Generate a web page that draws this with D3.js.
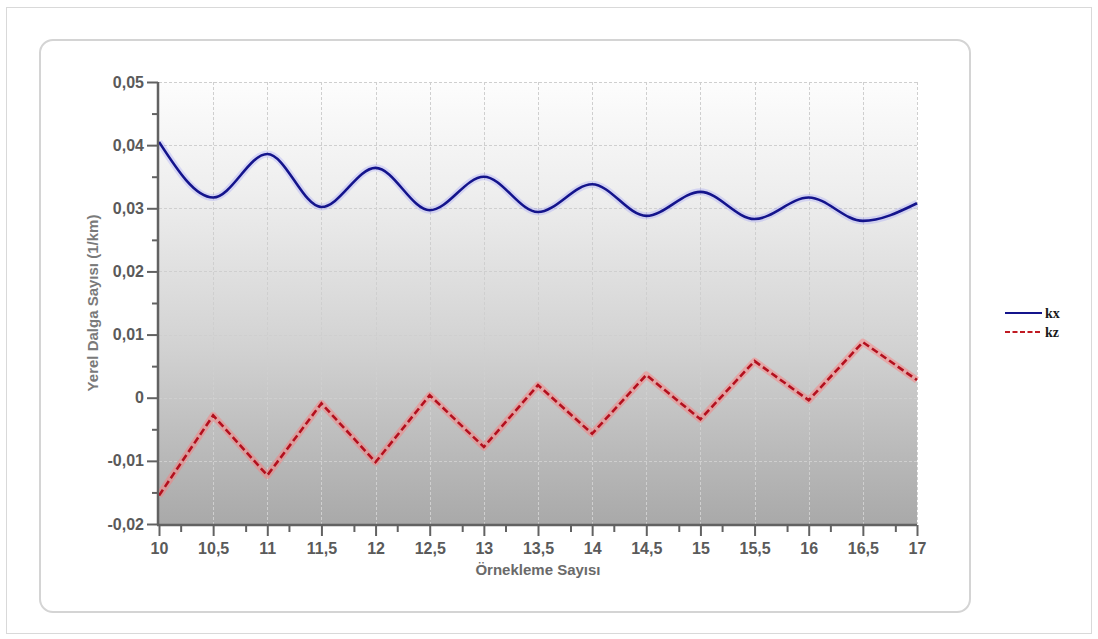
<!DOCTYPE html>
<html>
<head>
<meta charset="utf-8">
<script src="https://cdn.jsdelivr.net/npm/d3@7"></script>
<style>
  html, body { margin: 0; padding: 0; background: #fff; }
  svg { display: block; }
</style>
</head>
<body>
<svg id="chart" width="1098" height="639"></svg>
<script>
// Sample positions (Örnekleme Sayısı)
const samples = [10, 10.5, 11, 11.5, 12, 12.5, 13, 13.5, 14, 14.5, 15, 15.5, 16, 16.5, 17];
// Local wave number kx (1/km)
const kx = [0.0405, 0.0317, 0.0386, 0.0302, 0.0364, 0.0297, 0.0350, 0.0294, 0.0338, 0.0288, 0.0326, 0.0283, 0.0317, 0.0280, 0.0308];
// Local wave number kz (1/km)
const kz = [-0.0155, -0.0028, -0.0123, -0.0009, -0.0102, 0.0004, -0.0078, 0.0020, -0.0057, 0.0036, -0.0034, 0.0058, -0.0004, 0.0088, 0.0028];

const xTicks = [10, 10.5, 11, 11.5, 12, 12.5, 13, 13.5, 14, 14.5, 15, 15.5, 16, 16.5, 17];
const xMinorTicks = [10.2, 10.8, 11.2, 11.8, 12.2, 12.8, 13.2, 13.8, 14.2, 14.8, 15.2, 15.8, 16.2, 16.8];
const yTicks = [-0.02, -0.01, 0, 0.01, 0.02, 0.03, 0.04, 0.05];
const yMinorTicks = [-0.015, -0.005, 0.005, 0.015, 0.025, 0.035, 0.045];

const seriesNames = ["kx", "kz"];
const xTitle = "Örnekleme Sayısı";
const yTitle = "Yerel Dalga Sayısı (1/km)";

const svg = d3.select("#chart");
const plot = { left: 159, right: 917, top: 82, bottom: 524 };

const x = d3.scaleLinear().domain([10, 17]).range([plot.left, plot.right]);
const y = d3.scaleLinear().domain([-0.02, 0.05]).range([plot.bottom, plot.top]);

const comma = v => String(+v.toFixed(3)).replace(".", ",");

// page frame and rounded panel
svg.append("rect").attr("x", 6.5).attr("y", 7.5).attr("width", 1085).attr("height", 626)
  .attr("fill", "#fff").attr("stroke", "#d9d9d9").attr("stroke-width", 1);
svg.append("rect").attr("x", 40).attr("y", 40).attr("width", 930).attr("height", 572)
  .attr("rx", 13).attr("ry", 13)
  .attr("fill", "#fff").attr("stroke", "#d4d4d4").attr("stroke-width", 2);

// plot background gradient
const defs = svg.append("defs");
const grad = defs.append("linearGradient").attr("id", "bg").attr("x1", 0).attr("y1", 0).attr("x2", 0).attr("y2", 1);
[[0, "#fdfdfd"], [0.25, "#eeeeee"], [0.6, "#d2d2d2"], [1, "#a9a9a9"]].forEach(([o, c]) =>
  grad.append("stop").attr("offset", o).attr("stop-color", c));

svg.append("rect").attr("x", plot.left).attr("y", plot.top)
  .attr("width", plot.right - plot.left).attr("height", plot.bottom - plot.top)
  .attr("fill", "url(#bg)");

// grid
const grid = svg.append("g").attr("stroke", "#cfcfcf").attr("stroke-width", 1).attr("stroke-dasharray", "3,2");
grid.selectAll("line.v").data(xTicks.slice(1)).join("line")
  .attr("x1", d => Math.round(x(d)) + 0.5).attr("x2", d => Math.round(x(d)) + 0.5)
  .attr("y1", plot.top).attr("y2", plot.bottom);
grid.selectAll("line.h").data(yTicks.slice(1)).join("line")
  .attr("y1", d => Math.round(y(d)) + 0.5).attr("y2", d => Math.round(y(d)) + 0.5)
  .attr("x1", plot.left).attr("x2", plot.right);

// axes
const axisColor = "#626262";
const labelFont = "'Liberation Sans', Arial, sans-serif";

const yAxis = d3.axisLeft(y).tickValues(yTicks).tickSize(11).tickPadding(3).tickFormat(comma);
const yAxisG = svg.append("g").attr("transform", `translate(${plot.left - 1},0)`).call(yAxis);
const yMinor = d3.axisLeft(y).tickValues(yMinorTicks).tickSize(6).tickFormat("");
svg.append("g").attr("transform", `translate(${plot.left - 1},0)`).call(yMinor);

const xAxis = d3.axisBottom(x).tickValues(xTicks).tickSize(11).tickPadding(7).tickFormat(comma);
const xAxisG = svg.append("g").attr("transform", `translate(0,${plot.bottom + 1})`).call(xAxis);
const xMinor = d3.axisBottom(x).tickValues(xMinorTicks).tickSize(7).tickFormat("");
svg.append("g").attr("transform", `translate(0,${plot.bottom + 1})`).call(xMinor);

svg.selectAll(".domain").attr("stroke", axisColor).attr("stroke-width", 2.5);
svg.selectAll(".tick line").attr("stroke", axisColor).attr("stroke-width", 2);
svg.selectAll(".tick text")
  .attr("fill", "#5a5a5a")
  .style("font-family", labelFont)
  .style("font-weight", "bold")
  .style("font-size", "16px");
// hide outer domain ticks beyond range
svg.selectAll(".domain").attr("d", function () {
  return d3.select(this).attr("d").replace(/M[-\d.]+,[-\d.]+V|M/, m => m);
});
yAxisG.select(".domain").attr("d", `M0,${plot.top}V${plot.bottom + 1}`);
xAxisG.select(".domain").attr("d", `M${plot.left - 2},0H${plot.right}`);
svg.selectAll("g").filter(function () { return this.querySelector(".domain") && !this.querySelector("text:not(:empty)"); })
  .select(".domain").remove();

// axis titles
svg.append("text")
  .attr("x", (plot.left + plot.right) / 2).attr("y", 575)
  .attr("text-anchor", "middle")
  .attr("fill", "#6a6a6a")
  .style("font-family", labelFont).style("font-weight", "bold").style("font-size", "15px")
  .text(xTitle);
svg.append("text")
  .attr("transform", `translate(98,${(plot.top + plot.bottom) / 2}) rotate(-90)`)
  .attr("text-anchor", "middle")
  .attr("fill", "#7a7a7a")
  .style("font-family", labelFont).style("font-weight", "bold").style("font-size", "15px")
  .text(yTitle);

// series
const pts = vals => samples.map((s, i) => [s, vals[i]]);
const smooth = d3.line().x(d => x(d[0])).y(d => y(d[1])).curve(d3.curveMonotoneX);
const straight = d3.line().x(d => x(d[0])).y(d => y(d[1]));

const clip = defs.append("clipPath").attr("id", "plotClip");
clip.append("rect").attr("x", plot.left).attr("y", plot.top - 4)
  .attr("width", plot.right - plot.left + 2).attr("height", plot.bottom - plot.top + 4);

const lines = svg.append("g").attr("clip-path", "url(#plotClip)");
// kx
lines.append("path").attr("d", smooth(pts(kx))).attr("fill", "none")
  .attr("stroke", "rgba(120,120,255,0.22)").attr("stroke-width", 7).attr("stroke-linejoin", "round");
lines.append("path").attr("d", smooth(pts(kx))).attr("fill", "none")
  .attr("stroke", "#14148c").attr("stroke-width", 2.6).attr("stroke-linejoin", "round");
// kz
lines.append("path").attr("d", straight(pts(kz))).attr("fill", "none")
  .attr("stroke", "rgba(255,120,120,0.45)").attr("stroke-width", 7).attr("stroke-linejoin", "round");
lines.append("path").attr("d", straight(pts(kz))).attr("fill", "none")
  .attr("stroke", "#b3101e").attr("stroke-width", 2.6).attr("stroke-dasharray", "7,3.5");

// legend
const legend = svg.append("g").attr("transform", "translate(1005,0)");
const legendRows = [
  { name: seriesNames[0], color: "#14148c", dash: null, y: 313 },
  { name: seriesNames[1], color: "#c01a22", dash: "5,2.5", y: 332 }
];
legendRows.forEach(r => {
  legend.append("line").attr("x1", 0).attr("x2", 37).attr("y1", r.y).attr("y2", r.y)
    .attr("stroke", r.color).attr("stroke-width", 2)
    .attr("stroke-dasharray", r.dash);
  legend.append("text").attr("x", 40).attr("y", r.y + 5)
    .attr("fill", "#1a1a1a")
    .style("font-family", "'Liberation Serif', 'Times New Roman', serif")
    .style("font-weight", "bold").style("font-size", "14px")
    .text(r.name);
});
</script>
</body>
</html>
